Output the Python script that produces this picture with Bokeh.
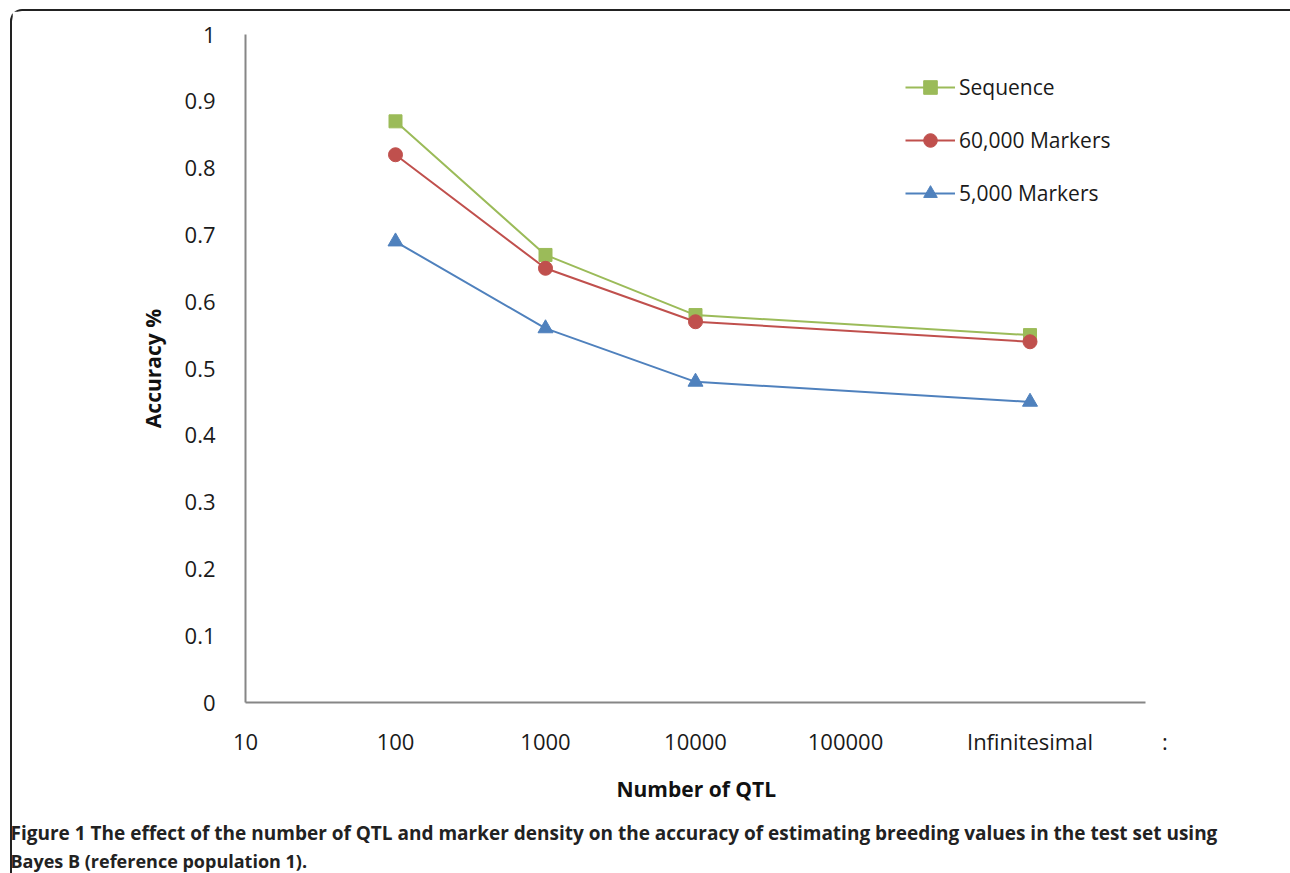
from bokeh.plotting import figure
from bokeh.models import (FixedTicker, Range1d, Legend, LegendItem, Title)
from bokeh.embed import file_html
from bokeh.resources import INLINE

# ---- data ----
qtl_labels = ["100", "1000", "10000", "Infinitesimal"]
qtl_pos = [2.0, 3.0, 4.0, 6.23]          # log10 position on the axis
sequence = [0.87, 0.67, 0.58, 0.55]
markers_60k = [0.82, 0.65, 0.57, 0.54]
markers_5k = [0.69, 0.56, 0.48, 0.45]

tick_pos = [1, 2, 3, 4, 5, 6.23, 7.13]
tick_text = ["10", "100", "1000", "10000", "100000", "Infinitesimal", ":"]
y_ticks = [0, 0.1, 0.2, 0.3, 0.4, 0.5, 0.6, 0.7, 0.8, 0.9, 1]

GREEN = "#9BBB59"
RED = "#C0504D"
BLUE = "#4F81BD"
AXIS = "#868686"
FONT = "Open Sans"

W, H = 1280, 864
CW, CH = W - 2, H - 2       # canvas inside the 2px left/top border
FW, FH = 930, 668            # frame: x range 1..7.2 at 150 px per decade
BL, BT = 233, 23
p = figure(width=W, height=H, output_backend="svg", toolbar_location=None,
           x_range=Range1d(1, 7.2), y_range=Range1d(0, 1),
           min_border_left=BL, min_border_right=CW - BL - FW,
           min_border_top=BT, min_border_bottom=CH - BT - FH)
p.frame_width = FW
p.frame_height = FH
p.background_fill_color = "white"
p.border_fill_color = "white"
p.outline_line_color = None
p.grid.visible = False
p.styles = {"border-left": "2px solid #222222", "border-top": "2px solid #222222",
            "border-top-left-radius": "12px", "box-sizing": "border-box",
            "margin-left": "10px", "margin-top": "9px"}

# axes
p.xaxis.ticker = FixedTicker(ticks=tick_pos)
p.xaxis.major_label_overrides = {t: s for t, s in zip(tick_pos, tick_text)}
p.xaxis.bounds = (1, 7)
p.yaxis.ticker = FixedTicker(ticks=y_ticks)
p.yaxis.major_label_overrides = {0: "0", 1: "1"}
for ax in (p.xaxis, p.yaxis):
    ax.axis_line_color = AXIS
    ax.axis_line_width = 2
    ax.major_tick_line_color = None
    ax.minor_tick_line_color = None
    ax.major_label_text_font = FONT
    ax.major_label_text_font_size = "22px"
    ax.major_label_text_color = "#1a1a1a"
    ax.axis_label_text_font = FONT
    ax.axis_label_text_font_style = "bold"
    ax.axis_label_text_font_size = "21px"
    ax.axis_label_text_color = "#111111"
p.xaxis.major_label_standoff = 17
p.yaxis.major_label_standoff = 24
p.yaxis.axis_label = "Accuracy %"
p.yaxis.axis_label_standoff = 15

# series
l1 = p.line(qtl_pos, sequence, line_color=GREEN, line_width=2)
m1 = p.scatter(qtl_pos, sequence, marker="square", size=13, fill_color=GREEN, line_color=GREEN)
l2 = p.line(qtl_pos, markers_60k, line_color=RED, line_width=2)
m2 = p.scatter(qtl_pos, markers_60k, marker="circle", size=14, fill_color=RED, line_color=RED)
l3 = p.line(qtl_pos, markers_5k, line_color=BLUE, line_width=2)
m3 = p.scatter(qtl_pos, markers_5k, marker="triangle", size=15, fill_color=BLUE, line_color=BLUE)

legend = Legend(items=[
    LegendItem(label="Sequence", renderers=[l1, m1]),
    LegendItem(label="60,000 Markers", renderers=[l2, m2]),
    LegendItem(label="5,000 Markers", renderers=[l3, m3]),
], location=(660, 492), padding=0, margin=0, spacing=19,
    glyph_width=50, glyph_height=34, label_height=34, label_standoff=4,
    label_text_font=FONT, label_text_font_size="21px", label_text_color="#1a1a1a",
    border_line_color=None, background_fill_alpha=0)
p.add_layout(legend)

# x-axis title, centred under the axis line (not the wider frame)
p.add_layout(Title(text="Number of QTL", align="left", offset=371, standoff=28,
                   text_font=FONT, text_font_style="bold", text_font_size="21px",
                   text_color="#111111"), "below")

# caption
cap1 = "Figure 1 The effect of the number of QTL and marker density on the accuracy of estimating breeding values in the test set using"
cap2 = "Bayes B (reference population 1)."
for txt, so, fs in ((cap1, 2, "19px"), (cap2, 0, "18px")):
    t = Title(text=txt, align="left", offset=10 - 245, standoff=so,
              text_font=FONT, text_font_style="bold",
              text_font_size=fs, text_color="#222222")
    p.add_layout(t, "below")

open("out.html", "w").write(file_html(p, INLINE))
